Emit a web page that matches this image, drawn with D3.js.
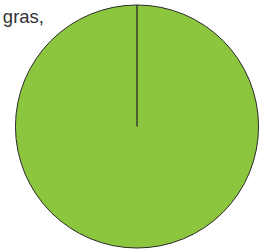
<!DOCTYPE html>
<html>
<head>
<meta charset="utf-8">
<script src="https://cdn.jsdelivr.net/npm/d3@7"></script>
<style>
  html, body { margin: 0; padding: 0; background: #fff; }
  svg { display: block; }
</style>
</head>
<body>
<script>
const labels = ['gras,'];
const values = [100];
const colors = ['#8cc63f'];

const width = 267, height = 251;
const cx = 137, cy = 126.5, r = 121.5;

const svg = d3.select('body').append('svg')
    .attr('width', width).attr('height', height);

const pie = d3.pie().sort(null).value(d => d);
const arc = d3.arc().innerRadius(0).outerRadius(r);
const slices = pie(values);

const g = svg.append('g').attr('transform', `translate(${cx},${cy})`);

g.selectAll('path.slice')
    .data(slices)
    .enter().append('path')
    .attr('class', 'slice')
    .attr('d', arc)
    .attr('fill', (d, i) => colors[i])
    .attr('stroke', '#2b2b2b')
    .attr('stroke-width', 1);

// slice border from centre, at each start angle
g.selectAll('line.edge')
    .data(slices)
    .enter().append('line')
    .attr('class', 'edge')
    .attr('x1', 0).attr('y1', 0)
    .attr('x2', d => r * Math.sin(d.startAngle))
    .attr('y2', d => -r * Math.cos(d.startAngle))
    .attr('stroke', '#2b2b2b')
    .attr('stroke-width', 1.3);

svg.selectAll('text.label')
    .data(labels)
    .enter().append('text')
    .attr('class', 'label')
    .attr('x', 44).attr('y', 23)
    .attr('text-anchor', 'end')
    .attr('font-family', 'Liberation Sans, Arial, sans-serif')
    .attr('font-size', 18.5)
    .attr('fill', '#333')
    .text(d => d);
</script>
</body>
</html>
